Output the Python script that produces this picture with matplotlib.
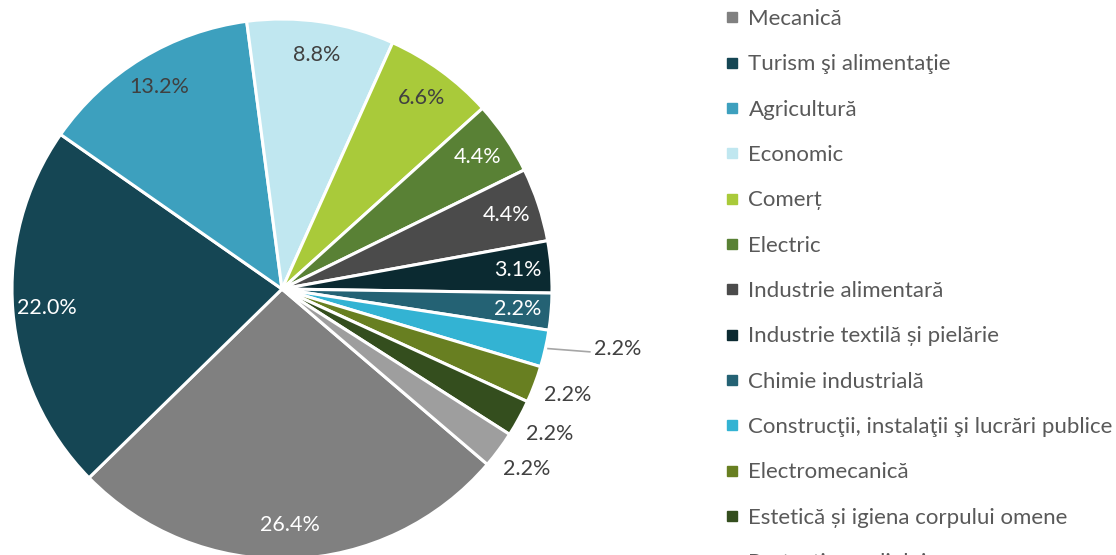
import numpy as np
import matplotlib
matplotlib.use("Agg")
import matplotlib.pyplot as plt
from matplotlib.lines import Line2D

plt.rcParams['font.family'] = ['Lato', 'DejaVu Sans']

categories = [
    'Mecanică',
    'Turism şi alimentaţie',
    'Agricultură',
    'Economic',
    'Comerț',
    'Electric',
    'Industrie alimentară',
    'Industrie textilă și pielărie',
    'Chimie industrială',
    'Construcţii, instalaţii şi lucrări publice',
    'Electromecanică',
    'Estetică și igiena corpului omene',
    'Protecția mediului',
]
shares = [26.4, 22.0, 13.2, 8.8, 6.6, 4.4, 4.4, 3.1, 2.2, 2.2, 2.2, 2.2, 2.2]
colors = ['#808080', '#154654', '#3DA0BE', '#C0E7F0', '#A9CA3A', '#598135',
          '#4B4B4B', '#0B2A31', '#246274', '#33B3D3', '#687F21', '#344E1E',
          '#9E9E9E']
light = {'Agricultură', 'Economic', 'Comerț'}
outside = {'Construcţii, instalaţii şi lucrări publice', 'Electromecanică',
           'Estetică și igiena corpului omene', 'Protecția mediului'}
leader = 'Construcţii, instalaţii şi lucrări publice'

W, H, DPI = 1116, 555, 100
fig = plt.figure(figsize=(W / DPI, H / DPI), dpi=DPI)
cx, cy, r = 282, 555 - 289, 270
ax = fig.add_axes([(cx - r) / W, (cy - r) / H, 2 * r / W, 2 * r / H])

wedges, _ = ax.pie(shares, colors=colors, startangle=-40.5, counterclock=False,
                   radius=1.0, wedgeprops=dict(edgecolor='white', linewidth=2.2))
ax.set_xlim(-1, 1)
ax.set_ylim(-1, 1)
ax.set_aspect('equal')
ax.axis('off')

dark_txt = '#404040'
fs = 15.5
for w, name, val in zip(wedges, categories, shares):
    mid = np.deg2rad((w.theta1 + w.theta2) / 2)
    lbl = f'{val:.1f}%'
    if name == leader:
        # small slice label pulled out with a leader line
        x0, y0 = 1.0 * np.cos(mid), 1.0 * np.sin(mid)
        x1, y1 = 1.14, y0 - 0.012
        ax.plot([x0 + 0.01, x1], [y0, y1], color='#A6A6A6', lw=1.2, clip_on=False)
        ax.text(x1 + 0.015, y1 + 0.01, lbl, ha='left', va='center',
                fontsize=fs, color=dark_txt, clip_on=False)
    elif name in outside:
        ax.text(1.13 * np.cos(mid), 1.13 * np.sin(mid) + 0.005, lbl,
                ha='center', va='center', fontsize=fs, color=dark_txt, clip_on=False)
    else:
        tc = dark_txt if name in light else 'white'
        ax.text(0.875 * np.cos(mid), 0.875 * np.sin(mid), lbl,
                ha='center', va='center', fontsize=fs, color=tc)

handles = [Line2D([], [], marker='s', linestyle='none', markersize=6.5,
                  markerfacecolor=c, markeredgecolor=c) for c in colors]
fig.legend(handles, categories, loc='upper left',
           bbox_to_anchor=(724 / W, 1 - 9 / H), frameon=False,
           fontsize=16, labelcolor='#595959', handlelength=0.7,
           handletextpad=0.4, labelspacing=1.14, borderpad=0, borderaxespad=0)

fig.savefig('out.png', dpi=DPI)
